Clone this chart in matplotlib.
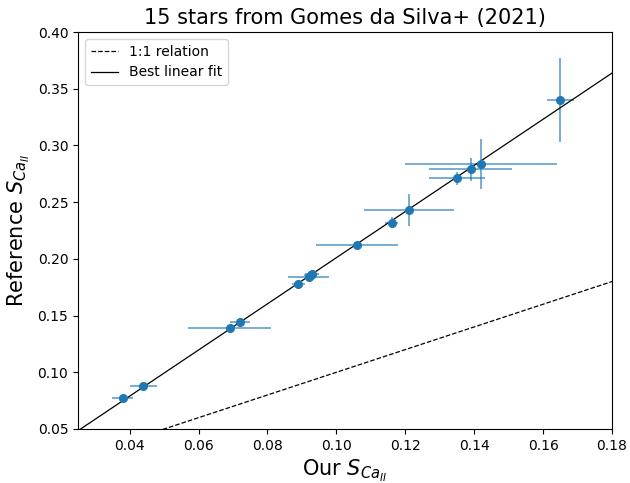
import numpy as np
import matplotlib
matplotlib.use('Agg')
import matplotlib.pyplot as plt

# our measurements vs reference values (Gomes da Silva+ 2021)
s_ours = [0.038, 0.044, 0.069, 0.072, 0.089, 0.092, 0.0925, 0.093,
          0.106, 0.116, 0.121, 0.135, 0.139, 0.142, 0.165]
s_ours_err = [0.003, 0.004, 0.012, 0.003, 0.002, 0.006, 0.002, 0.002,
              0.012, 0.002, 0.013, 0.008, 0.012, 0.022, 0.004]
s_ref = [0.077, 0.088, 0.139, 0.144, 0.178, 0.184, 0.1855, 0.1865,
         0.212, 0.232, 0.243, 0.271, 0.279, 0.284, 0.340]
s_ref_err = [0.001, 0.001, 0.001, 0.001, 0.001, 0.001, 0.004, 0.001,
             0.001, 0.005, 0.014, 0.006, 0.010, 0.022, 0.037]

fig = plt.figure(figsize=(6.3, 4.83), dpi=100)
ax = fig.add_axes([78/630, 54/483, 534/630, 397/483])

ax.errorbar(s_ours, s_ref, xerr=s_ours_err, yerr=s_ref_err, fmt='none',
            ecolor='C0', alpha=0.7, elinewidth=1.2)
ax.plot(s_ours, s_ref, 'o', color='C0', ms=5.5, zorder=3)

xs = np.linspace(0.0, 0.2, 10)
ax.plot(xs, xs, 'k--', lw=0.9, label='1:1 relation')
z = np.polyfit(s_ours, s_ref, 1)
ax.plot(xs, np.poly1d(z)(xs), 'k-', lw=0.9, label='Best linear fit')

ax.set_xlim(0.025, 0.18)
ax.set_ylim(0.05, 0.40)
ax.set_xlabel(r'Our $S_{Ca_{II}}$', fontsize=15)
ax.set_ylabel(r'Reference $S_{Ca_{II}}$', fontsize=15)
ax.set_title('15 stars from Gomes da Silva+ (2021)', fontsize=15)
ax.legend(loc='upper left')

fig.savefig('out.png', dpi=100)
